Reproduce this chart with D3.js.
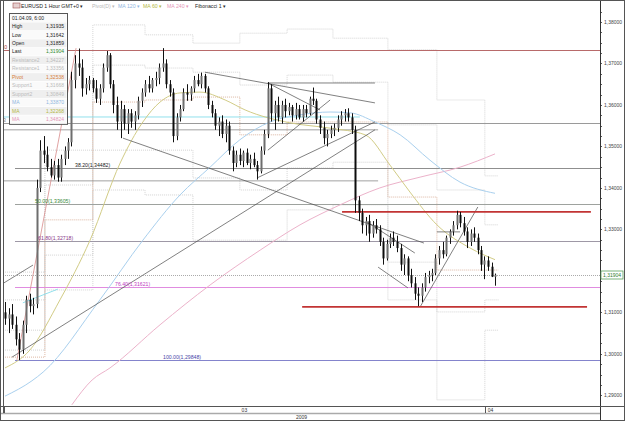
<!DOCTYPE html>
<html><head><meta charset="utf-8">
<script src="https://cdn.jsdelivr.net/npm/d3@7"></script>
<style>
body{margin:0;background:#fff;}
svg{display:block;font-family:"Liberation Sans",Arial,sans-serif;}
</style>
</head><body>
<svg id="c" width="625" height="421"></svg>
<script>
// ---------------- DATA ----------------
const barOpen = [
1.3100,1.3085,1.3095,1.3070,1.3035,1.3010,1.3070,1.3130,1.3115,1.3120,
1.3400,1.3490,1.3480,1.3450,1.3430,1.3455,1.3425,1.3470,1.3490,1.3510,
1.3660,1.3700,1.3690,1.3640,1.3650,1.3660,1.3640,1.3615,1.3640,1.3690,
1.3720,1.3650,1.3600,1.3560,1.3590,1.3555,1.3580,1.3560,1.3575,1.3610,
1.3630,1.3650,1.3640,1.3660,1.3665,1.3690,1.3700,1.3650,1.3630,1.3525,
1.3570,1.3590,1.3630,1.3625,1.3640,1.3660,1.3650,1.3670,1.3640,1.3600,
1.3580,1.3550,1.3560,1.3530,1.3550,1.3490,1.3460,1.3480,1.3465,1.3485,
1.3460,1.3470,1.3455,1.3440,1.3490,1.3530,1.3640,1.3580,1.3600,1.3570,
1.3600,1.3585,1.3595,1.3575,1.3590,1.3570,1.3590,1.3580,1.3615,1.3610,
1.3565,1.3545,1.3520,1.3530,1.3540,1.3545,1.3565,1.3575,1.3580,1.3570,
1.3540,1.3370,1.3340,1.3310,1.3320,1.3290,1.3310,1.3300,1.3270,1.3230,
1.3265,1.3280,1.3270,1.3255,1.3215,1.3230,1.3190,1.3170,1.3145,1.3140,
1.3160,1.3185,1.3190,1.3195,1.3230,1.3250,1.3240,1.3280,1.3295,1.3310,
1.3335,1.3315,1.3295,1.3270,1.3290,1.3280,1.3250,1.3215,1.3225,1.3210,
1.31859];
const barHigh = [
1.3125,1.3110,1.3120,1.3090,1.3050,1.3080,1.3140,1.3145,1.3135,1.3420,
1.3515,1.3525,1.3500,1.3470,1.3465,1.3470,1.3480,1.3500,1.3520,1.3680,
1.3720,1.3736,1.3710,1.3665,1.3670,1.3665,1.3660,1.3650,1.3700,1.3730,
1.3725,1.3660,1.3620,1.3610,1.3600,1.3590,1.3590,1.3585,1.3620,1.3640,
1.3660,1.3670,1.3665,1.3680,1.3700,1.3737,1.3710,1.3660,1.3640,1.3580,
1.3600,1.3640,1.3650,1.3645,1.3670,1.3675,1.3678,1.3675,1.3645,1.3610,
1.3590,1.3570,1.3575,1.3565,1.3560,1.3500,1.3490,1.3495,1.3490,1.3495,
1.3480,1.3485,1.3465,1.3500,1.3540,1.3655,1.3650,1.3610,1.3620,1.3610,
1.3615,1.3605,1.3600,1.3605,1.3600,1.3600,1.3600,1.3620,1.3642,1.3615,
1.3575,1.3560,1.3540,1.3550,1.3555,1.3575,1.3585,1.3590,1.3592,1.3580,
1.3550,1.3380,1.3350,1.3330,1.3335,1.3320,1.3325,1.3310,1.3280,1.3275,
1.3290,1.3295,1.3285,1.3265,1.3240,1.3235,1.3205,1.3185,1.3160,1.3170,
1.3195,1.3200,1.3205,1.3240,1.3260,1.3270,1.3285,1.3300,1.3320,1.3345,
1.3342,1.3330,1.3305,1.3300,1.3305,1.3290,1.3260,1.3235,1.3235,1.3220,
1.31935];
const barLow = [
1.3070,1.3050,1.3060,1.3020,1.2985,1.3000,1.3050,1.3100,1.3095,1.3110,
1.3390,1.3460,1.3440,1.3425,1.3420,1.3415,1.3415,1.3455,1.3470,1.3500,
1.3640,1.3670,1.3620,1.3625,1.3635,1.3630,1.3605,1.3600,1.3630,1.3680,
1.3640,1.3580,1.3540,1.3520,1.3540,1.3530,1.3545,1.3540,1.3565,1.3595,
1.3620,1.3630,1.3630,1.3645,1.3650,1.3680,1.3640,1.3620,1.3510,1.3515,
1.3560,1.3585,1.3610,1.3610,1.3630,1.3645,1.3640,1.3630,1.3590,1.3570,
1.3540,1.3525,1.3520,1.3510,1.3480,1.3440,1.3450,1.3455,1.3450,1.3455,
1.3445,1.3450,1.3420,1.3435,1.3480,1.3520,1.3560,1.3540,1.3560,1.3555,
1.3570,1.3575,1.3560,1.3565,1.3565,1.3560,1.3570,1.3575,1.3600,1.3555,
1.3530,1.3505,1.3500,1.3520,1.3525,1.3535,1.3550,1.3560,1.3560,1.3530,
1.3340,1.3320,1.3290,1.3285,1.3270,1.3280,1.3290,1.3260,1.3215,1.3225,
1.3255,1.3260,1.3245,1.3200,1.3190,1.3175,1.3160,1.3130,1.3115,1.3125,
1.3150,1.3170,1.3175,1.3190,1.3215,1.3230,1.3235,1.3265,1.3285,1.3300,
1.3305,1.3285,1.3255,1.3260,1.3270,1.3240,1.3200,1.3180,1.3200,1.3185,
1.31642];
const barClose = [
1.3085,1.3095,1.3070,1.3035,1.3010,1.3070,1.3130,1.3115,1.3120,1.3400,
1.3490,1.3480,1.3450,1.3430,1.3455,1.3425,1.3470,1.3490,1.3510,1.3660,
1.3700,1.3690,1.3640,1.3650,1.3660,1.3640,1.3615,1.3640,1.3690,1.3720,
1.3650,1.3600,1.3560,1.3590,1.3555,1.3580,1.3560,1.3575,1.3610,1.3630,
1.3650,1.3640,1.3660,1.3665,1.3690,1.3700,1.3650,1.3630,1.3525,1.3570,
1.3590,1.3630,1.3625,1.3640,1.3660,1.3650,1.3670,1.3640,1.3600,1.3580,
1.3550,1.3560,1.3530,1.3550,1.3490,1.3460,1.3480,1.3465,1.3485,1.3460,
1.3470,1.3455,1.3440,1.3490,1.3530,1.3640,1.3580,1.3600,1.3570,1.3600,
1.3585,1.3595,1.3575,1.3590,1.3570,1.3590,1.3580,1.3615,1.3610,1.3565,
1.3545,1.3520,1.3530,1.3540,1.3545,1.3565,1.3575,1.3580,1.3570,1.3540,
1.3370,1.3340,1.3310,1.3320,1.3290,1.3310,1.3300,1.3270,1.3230,1.3265,
1.3280,1.3270,1.3255,1.3215,1.3230,1.3190,1.3170,1.3145,1.3140,1.3160,
1.3185,1.3190,1.3195,1.3230,1.3250,1.3240,1.3280,1.3295,1.3310,1.3335,
1.3315,1.3295,1.3270,1.3290,1.3280,1.3250,1.3215,1.3225,1.3210,1.31859,
1.31904];

// moving averages (sampled at bar indices)
const ma120Idx = [0, 7.7, 10.9, 27.1, 39.4, 50, 58.6, 67.1, 75.7, 84.3, 92.9, 98.6, 105.7, 112.9, 121.4, 130, 140];
const ma120Val = [1.2898,1.2935,1.2956,1.3130,1.3274,1.3383,1.3450,1.3516,1.3559,1.3576,1.3583,1.3581,1.3559,1.3528,1.3467,1.3414,1.3387];
const ma60Idx  = [0, 7.1, 15.7, 24.3, 32.9, 39.4, 44.3, 50, 55.7, 62.9, 68.6, 81.4, 92.9, 102.9, 110, 115.7, 123.4, 132.9, 140];
const ma60Val  = [1.2966,1.3009,1.3130,1.3274,1.3460,1.3559,1.3607,1.3629,1.3631,1.3612,1.3588,1.3557,1.3544,1.3528,1.3455,1.3390,1.3311,1.3255,1.3227];
const ma240Idx = [19.1, 24.9, 30, 44.3, 58.6, 72.9, 84.3, 95.7, 107.1, 118.6, 130, 140];
const ma240Val = [1.2877,1.2937,1.2966,1.3070,1.3166,1.3250,1.3311,1.3359,1.3400,1.3426,1.3450,1.3482];

// pivot (daily) step levels
const pivotStarts = [0, 11.4, 25.1, 40, 53.7, 67.1, 80.6, 93.7, 109.4, 123.4, 137.1];
const pivotEnd = 141;
const pivotR2 = [1.3197,1.3491,1.3793,1.3769,1.3749,1.3773,1.3783,1.3761,1.3733,1.3612,1.3429];
const pivotR1 = [1.3130,1.3407,1.3696,1.3689,1.3679,1.3648,1.3672,1.3655,1.3552,1.3395,1.3311];
const pivotP  = [1.2992,1.3323,1.3607,1.3612,1.3619,1.3528,1.3559,1.3559,1.3378,1.3202,1.3202];
const pivotS1 = [1.3057,1.3238,1.3491,1.3491,1.3424,1.3395,1.3448,1.3462,1.3221,1.3101,1.3130];
const pivotS2 = [1.3009,1.3154,1.3395,1.3383,1.3274,1.3274,1.3347,1.3359,1.3130,1.2889,1.3057];

// fibonacci retracement
const fibLevels = [0, 23.6, 38.2, 50, 61.8, 76.4, 100];
const fibPrices = [1.37336, 1.35569, 1.34482, 1.33605, 1.32718, 1.31621, 1.29848];
const fibLabelsShown = ["0.0", "23", "38.20(1,34482)", "50.00(1,33605)", "61.80(1,32718)", "76.40(1,31621)", "100.00(1,29848)"];

// trend lines [i1, p1, i2, p2]
const trendLines = [
  [2, 1.2992, 105.7, 1.3540],
  [72, 1.3424, 105.7, 1.3559],
  [57.1, 1.3679, 105.7, 1.3605],
  [75.1, 1.3653, 105.7, 1.3653],
  [33.7, 1.3520, 119.7, 1.3267],
  [103.4, 1.3318, 117.1, 1.3243],
  [106.6, 1.3209, 115.1, 1.3159],
  [118.6, 1.3113, 135.1, 1.3354],
  [123.4, 1.3294, 130, 1.3294],
  [75.1, 1.3653, 90, 1.3588],
  [75.1, 1.3491, 92.9, 1.3612],
  [-0.3, 1.3171, 8, 1.3214]
];
const fibDiagonal = [3.4, 1.2985, 20.3, 1.3737];
const cyanLines = [[5.1, 1.3123, 15.1, 1.3156], [-0.3, 1.3571, 101.4, 1.3571]];
const grayLevels = [[-0.3, 1.3540, 106.6], [-0.3, 1.3417, 106.6]];
const redLevels = [[96.3, 1.3342, 167.4], [84.9, 1.3113, 166.3]];

const lastPrice = 1.31904;
const priceTicks = [1.38, 1.37, 1.36, 1.35, 1.34, 1.33, 1.31, 1.30, 1.29];
const dayTicks = [-0.3, 137.1];
const dayLabels = ["03", "04"];
const yearLabel = "2009";

const infoRows = [
  ["01.04.09, 6:00", ""],
  ["High", "1,31935"], ["Low", "1,31642"], ["Open", "1,31859"], ["Last", "1,31904"],
  ["Resistance2", "1,34227"], ["Resistance1", "1,33356"], ["Pivot", "1,32538"],
  ["Support1", "1,31668"], ["Support2", "1,30849"],
  ["MA", "1,33870"], ["MA", "1,32268"], ["MA", "1,34824"]
];
const infoColors = ["#222","#222","#222","#222","#2e8b2e","#bbb","#bbb","#d8803a","#bbb","#bbb","#8fb6e0","#b4b844","#e497b8"];

const toolbarItems = ["EURUSD 1 Hour GMT+0 \u25BE", "Pivot(D) \u25BE", "MA 120 \u25BE", "MA 60 \u25BE", "MA 240 \u25BE", "Fibonacci 1 \u25BE"];

// ---------------- LAYOUT ----------------
const W = 625, H = 421;
const plotL = 3, plotR = 600, plotT = 1, plotB = 406;
const svg = d3.select("#c");
const x = d3.scaleLinear().domain([0, 140]).range([5, 495]);
const y = d3.scaleLinear().domain([1.29, 1.38]).range([395.3, 22]);
const fmt = v => v.toFixed(5).replace(".", ",");

svg.append("rect").attr("width", W).attr("height", H).attr("fill", "#fff");
svg.append("defs").append("clipPath").attr("id", "clip")
  .append("rect").attr("x", plotL).attr("y", plotT).attr("width", plotR - plotL).attr("height", plotB - plotT);
const g = svg.append("g").attr("clip-path", "url(#clip)");

// pivot lines
const stepLine = d3.line().x(d => x(d[0])).y(d => y(d[1])).curve(d3.curveStepAfter);
function pivotPts(arr) {
  const pts = pivotStarts.map((s, k) => [s, arr[k]]);
  pts.push([pivotEnd, arr[arr.length - 1]]);
  return pts;
}
[[pivotR2, "#c9c9c9"], [pivotR1, "#c9c9c9"], [pivotS1, "#c9c9c9"], [pivotS2, "#c9c9c9"], [pivotP, "#d4a48c"]].forEach(([arr, col]) => {
  g.append("path").attr("d", stepLine(pivotPts(arr))).attr("fill", "none")
    .attr("stroke", col).attr("stroke-width", 0.8).attr("stroke-dasharray", "1,1");
});

// gray extra horizontals
grayLevels.forEach(d => {
  g.append("line").attr("x1", x(d[0])).attr("x2", x(d[2])).attr("y1", y(d[1])).attr("y2", y(d[1]))
    .attr("stroke", "#8a8a8a").attr("stroke-width", 0.8);
});

// fibonacci lines
const fibLineCol = ["#b86a6a", "#9a9a9a", "#8f8f8f", "#9ea29e", "#9e98a6", "#e08ce0", "#8484cc"];
const fibLabelCol = ["#b04040", "#888", "#222", "#3a8a3a", "#8a3a8a", "#c040c0", "#4848a8"];
const fibLabelX = [0, 0, 75, 35, 38, 115, 163];
const fibStartX = [3, 3, 15, 15, 15, 15, 15];
fibLevels.forEach((lv, k) => {
  const yy = Math.round(y(fibPrices[k])) + 0.5;
  g.append("line").attr("x1", fibStartX[k]).attr("x2", plotR).attr("y1", yy).attr("y2", yy)
    .attr("stroke", fibLineCol[k]).attr("stroke-width", 1);
});
g.append("line").attr("x1", x(fibDiagonal[0])).attr("y1", y(fibDiagonal[1]))
  .attr("x2", x(fibDiagonal[2])).attr("y2", y(fibDiagonal[3]))
  .attr("stroke", "#d88a8a").attr("stroke-width", 0.8);

// cyan lines
cyanLines.forEach(d => {
  g.append("line").attr("x1", x(d[0])).attr("y1", y(d[1])).attr("x2", x(d[2])).attr("y2", y(d[3]))
    .attr("stroke", "#86dcea").attr("stroke-width", 0.9);
});

// moving averages
const maLine = d3.line().x(d => x(d[0])).y(d => y(d[1])).curve(d3.curveMonotoneX);
[[ma240Idx, ma240Val, "#ecb2ca"], [ma120Idx, ma120Val, "#a9d0ee"], [ma60Idx, ma60Val, "#d2cc86"]].forEach(([ix, vv, col]) => {
  g.append("path").attr("d", maLine(ix.map((v, k) => [v, vv[k]]))).attr("fill", "none")
    .attr("stroke", col).attr("stroke-width", 1);
});

// trend lines
trendLines.forEach(d => {
  g.append("line").attr("x1", x(d[0])).attr("y1", y(d[1])).attr("x2", x(d[2])).attr("y2", y(d[3]))
    .attr("stroke", "#4a4a4a").attr("stroke-width", 0.7);
});

// last price dotted
g.append("line").attr("x1", plotL).attr("x2", plotR).attr("y1", Math.round(y(lastPrice)) + 0.5).attr("y2", Math.round(y(lastPrice)) + 0.5)
  .attr("stroke", "#aaa").attr("stroke-width", 1).attr("stroke-dasharray", "1,1");

// red thick lines
redLevels.forEach(d => {
  g.append("line").attr("x1", x(d[0])).attr("x2", x(d[2])).attr("y1", y(d[1])).attr("y2", y(d[1]))
    .attr("stroke", "#c23434").attr("stroke-width", 1.8);
});

// candles
const bars = barOpen.map((o, i) => ({ i, o, h: barHigh[i], l: barLow[i], c: barClose[i] }));
const cg = g.append("g");
cg.selectAll("line.w").data(bars).join("line")
  .attr("x1", d => Math.round(x(d.i)) + 0.5).attr("x2", d => Math.round(x(d.i)) + 0.5)
  .attr("y1", d => y(d.h)).attr("y2", d => y(d.l))
  .attr("stroke", "#111").attr("stroke-width", 1);
cg.selectAll("rect.b").data(bars).join("rect")
  .attr("x", d => Math.round(x(d.i)) - 0.5).attr("width", 2)
  .attr("y", d => y(Math.max(d.o, d.c))).attr("height", d => Math.max(1, Math.abs(y(d.o) - y(d.c))))
  .attr("fill", d => d.c >= d.o ? "#6e6e6e" : "#0d0d0d");

// fib labels (drawn above marks)
fibLevels.forEach((lv, k) => {
  const yy = Math.round(y(fibPrices[k])) + 0.5;
  g.append("text").attr("x", fibLabelX[k]).attr("y", yy - 1.5)
    .attr("font-size", 5.2).attr("fill", fibLabelCol[k])
    .text(fibLabelsShown[k]);
});

// ---------------- AXES ----------------
svg.append("line").attr("x1", plotR + 0.5).attr("x2", plotR + 0.5).attr("y1", 0).attr("y2", 420).attr("stroke", "#333");
const minorTicks = d3.range(1.2875, 1.3826, 0.0025);
svg.selectAll("line.mt").data(minorTicks).join("line")
  .attr("x1", plotR).attr("x2", plotR + 2).attr("y1", d => Math.round(y(d)) + 0.5).attr("y2", d => Math.round(y(d)) + 0.5)
  .attr("stroke", "#333").attr("stroke-width", 0.8);
svg.selectAll("text.pt").data(priceTicks).join("text")
  .attr("x", 604).attr("y", d => y(d) + 1.8).attr("font-size", 5).attr("fill", "#444")
  .text(d => fmt(d));
// last price tag
svg.append("rect").attr("x", 601).attr("y", Math.round(y(lastPrice)) - 4).attr("width", 22).attr("height", 8)
  .attr("fill", "#fff").attr("stroke", "#5aa05a").attr("stroke-width", 0.8);
svg.append("text").attr("x", 603).attr("y", Math.round(y(lastPrice)) + 2).attr("font-size", 5).attr("fill", "#2e7d2e").text(fmt(lastPrice));

// bottom time axis
svg.append("line").attr("x1", 0).attr("x2", W).attr("y1", 406.5).attr("y2", 406.5).attr("stroke", "#555");
svg.append("line").attr("x1", 0).attr("x2", plotR).attr("y1", 413.5).attr("y2", 413.5).attr("stroke", "#aaa").attr("stroke-width", 1.5);
svg.selectAll("line.dt").data(dayTicks).join("line")
  .attr("x1", d => Math.round(x(d)) + 0.5).attr("x2", d => Math.round(x(d)) + 0.5).attr("y1", 406).attr("y2", 413)
  .attr("stroke", "#555");
svg.append("text").attr("x", (x(dayTicks[0]) + x(dayTicks[1])) / 2).attr("y", 412).attr("font-size", 5)
  .attr("text-anchor", "middle").attr("fill", "#333").text(dayLabels[0]);
svg.append("text").attr("x", x(dayTicks[1]) + 3).attr("y", 412).attr("font-size", 5)
  .attr("fill", "#333").text(dayLabels[1]);
svg.append("text").attr("x", (plotL + plotR) / 2).attr("y", 419).attr("font-size", 5)
  .attr("text-anchor", "middle").attr("fill", "#333").text(yearLabel);

// outer frame
svg.append("rect").attr("x", 0.5).attr("y", 0.5).attr("width", W - 1).attr("height", H - 1)
  .attr("fill", "none").attr("stroke", "#555");
svg.append("line").attr("x1", 3.5).attr("x2", 3.5).attr("y1", 0).attr("y2", 413).attr("stroke", "#555");

// ---------------- TOOLBAR ----------------
const tbX = [21, 92, 118, 143, 167, 195];
const tbCol = ["#222", "#b8b8b8", "#8fb6e0", "#b4b844", "#e497b8", "#222"];
svg.append("rect").attr("x", 13).attr("y", 3).attr("width", 7).attr("height", 5).attr("fill", "#e6d0d0").attr("stroke", "#a05050").attr("stroke-width", 0.6);
toolbarItems.forEach((t, k) => {
  svg.append("text").attr("x", tbX[k]).attr("y", 8).attr("font-size", 5.2).attr("fill", tbCol[k]).text(t);
});

// ---------------- INFO BOX ----------------
const bx = 9, by = 13, bw = 58, rh = 8.45;
const ib = svg.append("g");
ib.append("rect").attr("x", bx + 0.5).attr("y", by + 0.5).attr("width", bw).attr("height", rh * infoRows.length + 1)
  .attr("fill", "#fff").attr("stroke", "#555");
infoRows.forEach((r, k) => {
  const ry = by + 1 + k * rh;
  ib.append("rect").attr("x", bx + 1.5).attr("y", ry).attr("width", bw - 2).attr("height", rh - 0.6)
    .attr("fill", k % 2 === 1 ? "#efefef" : "#fafafa");
  ib.append("text").attr("x", bx + 3).attr("y", ry + 5.6).attr("font-size", 5).attr("fill", k < 5 ? "#222" : infoColors[k]).text(r[0]);
  ib.append("text").attr("x", bx + bw - 3).attr("y", ry + 5.6).attr("font-size", 5).attr("text-anchor", "end")
    .attr("fill", infoColors[k]).text(r[1]);
});
</script>
</body></html>
